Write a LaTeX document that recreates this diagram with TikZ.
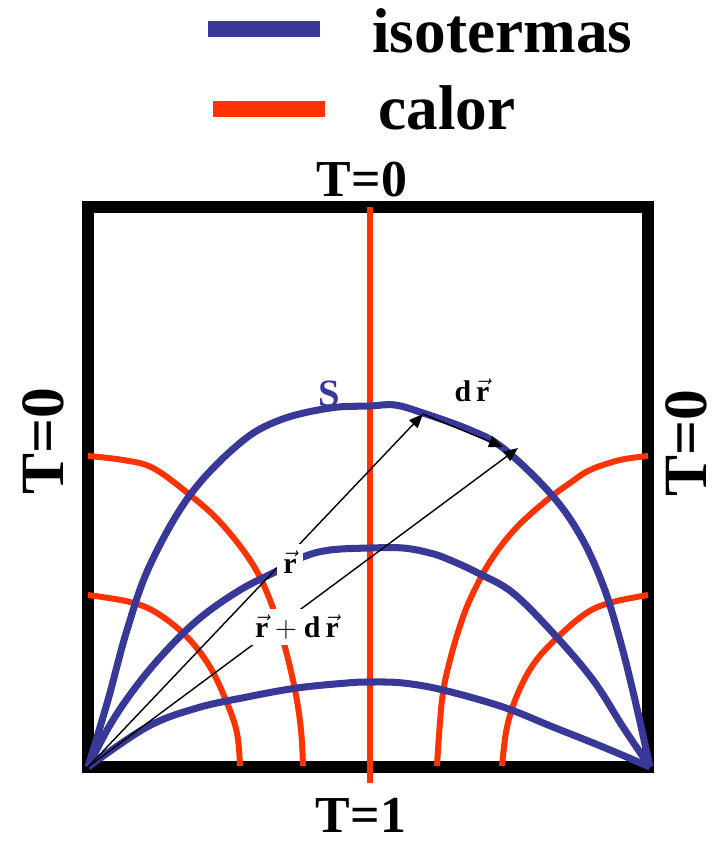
\documentclass[tikz,border=0pt]{standalone}
\usepackage{fontspec}
\setmainfont{Liberation Serif}
\usetikzlibrary{arrows.meta}

\definecolor{isoblue}{RGB}{56,56,152}
\definecolor{heatred}{RGB}{255,51,0}

\newcommand{\vr}{\vec{\textbf{r}}}

\begin{document}
\begin{tikzpicture}[
    x=0.02cm, y=-0.02cm,
    wall/.style={draw=black, line width=6.4pt},
    iso/.style={draw=isoblue, line width=4pt, line join=round},
    heat/.style={draw=heatred, line width=3.4pt},
    vecarr/.style={-{Triangle[length=8pt, width=6.5pt]}, line width=0.8pt},
    lbl/.style={font=\bfseries\fontsize{17}{18}\selectfont, fill=white, inner sep=3.5pt},
    temp/.style={font=\bfseries\fontsize{29.5}{30}\selectfont, inner sep=0pt, anchor=base},
    side/.style={font=\bfseries\fontsize{35}{36}\selectfont, inner sep=0pt, anchor=base, rotate=90},
    legend/.style={font=\bfseries\fontsize{36}{37}\selectfont, inner sep=0pt, anchor=base west},
  ]
  \useasboundingbox (0,0) rectangle (719,841);

  % legend
  \coordinate (isoA) at (208,29);
  \coordinate (isoB) at (320,29);
  \coordinate (heatA) at (213,109);
  \coordinate (heatB) at (325,109);
  \draw[iso, line width=9pt] (isoA) -- (isoB);
  \draw[heat, line width=9pt] (heatA) -- (heatB);
  \node[legend] (isoname) at (372,53) {isotermas};
  \node[legend] (heatname) at (378,130) {calor};

  % box
  \draw[wall] (88,207) rectangle (648,767);
  \node[temp] (top) at (362,196) {T=0};
  \node[temp] (bottom) at (361,832) {T=1};
  \node[side] (left) at (63,441) {T=0};
  \node[side] (right) at (706,443) {T=0};

  % heat flow lines
  \draw[heat] (370,207) -- (370,783);
  \draw[heat] plot[smooth, tension=0.6] coordinates {(88,456) (123,460) (153,468) (190,495) (220,522) (250,560) (268,595) (283,640) (295,690) (301,730) (303,766)};
  \draw[heat] plot[smooth, tension=0.6] coordinates {(88,595) (130,602) (157,613) (187,637) (210,667) (227,703) (237,733) (240,766)};
  \draw[heat] plot[smooth, tension=0.6] coordinates {(648,456) (620,460) (590,470) (570,483) (547,500) (517,527) (493,557) (476,587) (463,617) (450,660) (442,700) (437,766)};
  \draw[heat] plot[smooth, tension=0.6] coordinates {(648,595) (613,602) (588,612) (560,635) (535,662) (518,693) (507,727) (502,766)};

  % isotherms
  \draw[iso] plot[smooth, tension=0.6] coordinates {(88,767) (108,700) (127,630) (150,565) (190,495) (240,443) (280,420) (330,408) (370,406) (395,405) (423,413) (470,430) (503,448) (550,493) (580,535) (603,585) (620,640) (635,700) (650,767)};
  \draw[iso] plot[smooth, tension=0.6] coordinates {(88,767) (110,725) (135,688) (165,652) (200,618) (240,590) (277,571) (303,557) (330,550) (370,548) (403,548) (430,553) (450,560) (480,574) (513,593) (553,633) (593,680) (623,727) (650,767)};
  \draw[iso] plot[smooth, tension=0.6] coordinates {(88,767) (147,727) (197,708) (247,697) (297,688) (347,683) (370,682) (403,683) (443,690) (503,707) (553,727) (603,747) (650,767)};
  \node[font=\bfseries\fontsize{22}{23}\selectfont, text=isoblue, inner sep=0pt] (S) at (329,394) {S};

  % position vectors
  \coordinate (O) at (88,767);
  \coordinate (P) at (423,414);
  \coordinate (Q) at (503,447);
  \coordinate (R) at (518,448);
  \draw[vecarr] (O) -- (P);
  \draw[vecarr] (O) -- (R);
  \draw[vecarr] (P) -- (Q);
  \node[lbl] (r) at (290,562) {$\vr$};
  \node[lbl] (rdr) at (297,627) {$\vr+\textbf{d}\,\vr$};
  \node[lbl, fill=none] (dr) at (472,390) {\textbf{d}\,$\vr$};
\end{tikzpicture}
\end{document}
